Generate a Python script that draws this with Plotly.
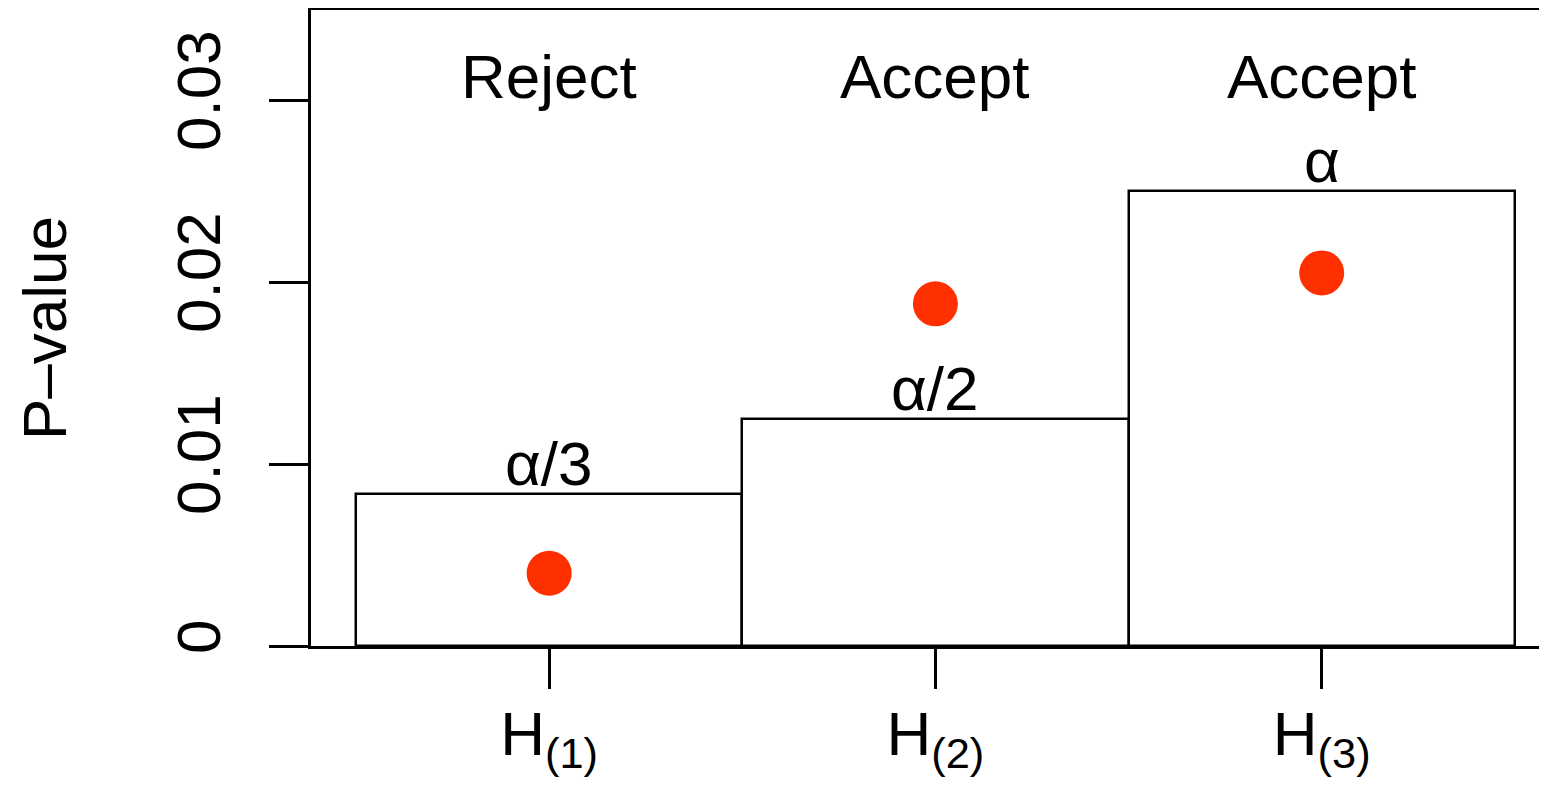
import plotly.graph_objects as go

hypotheses = ["H<sub>(1)</sub>", "H<sub>(2)</sub>", "H<sub>(3)</sub>"]
alpha = 0.025
thresholds = [alpha / 3, alpha / 2, alpha]
threshold_labels = ["α/3", "α/2", "α"]
p_values = [0.0040, 0.0188, 0.0205]
decisions = ["Reject", "Accept", "Accept"]
decision_y = 0.0313
y_ticks = [0, 0.01, 0.02, 0.03]
y_tick_labels = ["0", "0.01", "0.02", "0.03"]

FONT = "Liberation Sans, Arial, sans-serif"
FS = 62

fig = go.Figure()
fig.add_trace(go.Bar(
    x=hypotheses, y=thresholds, width=1,
    marker=dict(color="white", line=dict(color="black", width=2.5)),
    hoverinfo="skip", showlegend=False,
))
fig.add_trace(go.Scatter(
    x=hypotheses, y=p_values, mode="markers",
    marker=dict(color="#FF3000", size=45, line=dict(width=0)),
    showlegend=False,
))

for h, t, lab in zip(hypotheses, thresholds, threshold_labels):
    fig.add_annotation(x=h, y=t, text=lab, showarrow=False, yanchor="bottom",
                       yshift=-6, font=dict(family=FONT, size=FS, color="black"))
for h, d in zip(hypotheses, decisions):
    fig.add_annotation(x=h, y=decision_y, text=d, showarrow=False, yanchor="middle",
                       font=dict(family=FONT, size=FS, color="black"))

fig.update_layout(
    width=1547, height=785,
    margin=dict(l=303, r=0, t=2, b=147, pad=0, autoexpand=False),
    paper_bgcolor="white", plot_bgcolor="white",
    bargap=0,
    font=dict(family=FONT, size=FS, color="black"),
    xaxis=dict(
        range=[-0.6165, 2.604], showgrid=False, zeroline=False, automargin=False,
        showline=True, linecolor="black", linewidth=3, mirror=True,
        ticks="outside", ticklen=40, tickwidth=3, tickcolor="black",
        ticklabelstandoff=-8,
        tickfont=dict(family=FONT, size=FS, color="black"),
    ),
    yaxis=dict(
        range=[0, 0.034945], showgrid=False, zeroline=False, automargin=False,
        showline=True, linecolor="black", linewidth=3,
        tickvals=y_ticks, ticktext=y_tick_labels, tickangle=-90,
        ticks="outside", ticklen=39, tickwidth=3, tickcolor="black",
        ticklabelstandoff=24,
        tickfont=dict(family=FONT, size=FS, color="black"),
        title=dict(text="P–value", standoff=78,
                   font=dict(family=FONT, size=FS, color="black")),
    ),
)

fig.write_html("out.html")
